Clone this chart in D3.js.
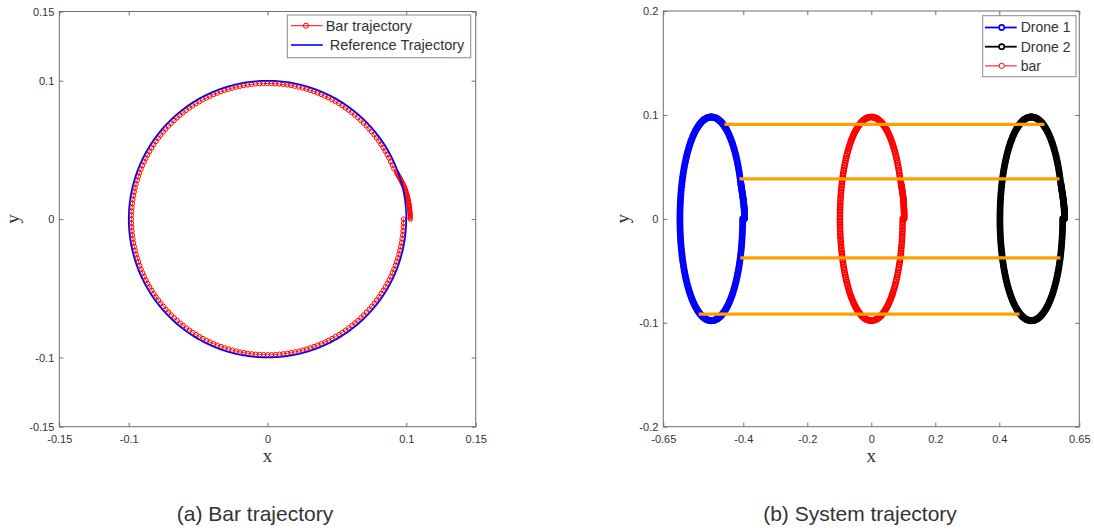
<!DOCTYPE html>
<html>
<head>
<meta charset="utf-8">
<script src="https://cdn.jsdelivr.net/npm/d3@7"></script>
<style>
  body { margin: 0; background: #fff; }
  svg { display: block; }
  text { font-family: "Liberation Sans", Arial, Helvetica, sans-serif; fill: #333; }
  .lbl { white-space: pre; }
</style>
</head>
<body>
<svg id="fig" width="1094" height="530"></svg>
<script>
// ---- data (metres) ----
const stepsPerLap = 216;              // logged samples per revolution
const refRadius = 0.1;                // reference circle for the bar
const barRadius = 0.098;              // steady-state radius of the bar
const droneRadius = 0.098;            // steady-state radius of each drone
const barCenterX = 0;
const droneCenterX = [-0.5, 0.5];

// start-up transient relative to each path's centre: shared y samples, x per body
const tailY = [
  0.000, 0.001, 0.002, 0.003, 0.004, 0.005, 0.006, 0.007, 0.008, 0.009,
  0.010, 0.011, 0.012, 0.013, 0.014, 0.015, 0.016, 0.017, 0.018, 0.019,
  0.020, 0.021, 0.022, 0.023, 0.024, 0.025, 0.026, 0.027, 0.028, 0.029,
  0.030, 0.031, 0.032, 0.033, 0.034
];
const barTailX = [
  0.1028, 0.1028, 0.1028, 0.1028, 0.1027, 0.1026, 0.1025, 0.1024, 0.1023, 0.1022,
  0.1020, 0.1019, 0.1017, 0.1015, 0.1013, 0.1011, 0.1008, 0.1006, 0.1003, 0.1000,
  0.0997, 0.0994, 0.0990, 0.0986, 0.0982, 0.0977, 0.0972, 0.0967, 0.0962, 0.0957,
  0.0951, 0.0946, 0.0940, 0.0935, 0.0929
];
const droneTailX = [
  0.1040, 0.1040, 0.1040, 0.1039, 0.1038, 0.1037, 0.1036, 0.1034, 0.1032, 0.1030,
  0.1028, 0.1025, 0.1022, 0.1019, 0.1016, 0.1012, 0.1008, 0.1004, 0.1000, 0.0996,
  0.0992, 0.0988, 0.0983, 0.0978, 0.0973, 0.0968, 0.0963, 0.0958, 0.0953, 0.0948,
  0.0943, 0.0938, 0.0933, 0.0928, 0.0923
];

// bar snapshots: drone 1 end x, drone 2 end x, height y
const snapX1 = [-0.459, -0.412, -0.409, -0.539];
const snapX2 = [0.541, 0.588, 0.591, 0.463];
const snapY  = [0.091, 0.0385, -0.0375, -0.0917];

// axis ticks
const xTicksA = [-0.15, -0.1, 0, 0.1, 0.15];
const yTicksA = [-0.15, -0.1, 0, 0.1, 0.15];
const xTicksB = [-0.65, -0.4, -0.2, 0, 0.2, 0.4, 0.65];
const yTicksB = [-0.2, -0.1, 0, 0.1, 0.2];

const legendA = ["Bar trajectory", " Reference Trajectory"];
const legendB = ["Drone 1", "Drone 2", "bar"];
const captions = ["(a) Bar trajectory", "(b) System trajectory"];

// ---- helpers ----
const TAU = Math.PI * 2;

// one lap: transient points, then the circle from where the transient ends
function lapPoints(tailX, radius, cx) {
  const tail = tailX.map((x, i) => [x, tailY[i]]);
  const last = tail[tail.length - 1];
  const a0 = Math.atan2(last[1], last[0]);
  const n = Math.round((TAU - a0) / TAU * stepsPerLap);
  const ring = d3.range(1, n + 1).map(i => {
    const a = a0 + i * (TAU - a0) / n;
    return [radius * Math.cos(a), radius * Math.sin(a)];
  });
  return tail.concat(ring).map(p => [p[0] + cx, p[1]]);
}

const svg = d3.select("#fig");
const axisColor = "#6e6e6e";

function drawAxes(g, x, y, xt, yt) {
  const [x0, x1] = x.range();
  const [y0, y1] = y.range();
  const fmt = d => String(d);
  const bottom = g.append("g").attr("transform", `translate(0,${y0})`)
    .call(d3.axisBottom(x).tickValues(xt).tickFormat(fmt).tickSizeInner(-4).tickSizeOuter(0).tickPadding(9));
  const left = g.append("g").attr("transform", `translate(${x0},0)`)
    .call(d3.axisLeft(y).tickValues(yt).tickFormat(fmt).tickSizeInner(-4).tickSizeOuter(0).tickPadding(5));
  const top = g.append("g").attr("transform", `translate(0,${y1})`)
    .call(d3.axisTop(x).tickValues(xt).tickFormat("").tickSizeInner(-4).tickSizeOuter(0));
  const right = g.append("g").attr("transform", `translate(${x1},0)`)
    .call(d3.axisRight(y).tickValues(yt).tickFormat("").tickSizeInner(-4).tickSizeOuter(0));
  [bottom, left, top, right].forEach(a => {
    a.select(".domain").remove();
    a.selectAll("line").attr("stroke", axisColor);
    a.selectAll("text").attr("fill", "#333").style("font-size", "11px")
      .style("font-family", '"Liberation Sans", Arial, sans-serif');
  });
  g.append("rect").attr("x", x0).attr("y", y1).attr("width", x1 - x0).attr("height", y0 - y1)
    .attr("fill", "none").attr("stroke", axisColor).attr("stroke-width", 1);
}

function axisTitles(g, x, y, xlabX, ylabX) {
  g.append("text").attr("x", xlabX).attr("y", 462).attr("text-anchor", "middle")
    .style("font-family", '"Liberation Serif", "Times New Roman", serif').style("font-size", "19px")
    .attr("fill", "#333").text("x");
  g.append("text").attr("transform", `translate(${ylabX},${(y.range()[0] + y.range()[1]) / 2}) rotate(-90)`)
    .attr("text-anchor", "middle")
    .style("font-family", '"Liberation Serif", "Times New Roman", serif').style("font-size", "19px")
    .attr("fill", "#333").text("y");
}

function drawTrack(g, pts, x, y, color, lw, mr, mw) {
  const line = d3.line().x(d => x(d[0])).y(d => y(d[1]));
  g.append("path").datum(pts).attr("d", line).attr("fill", "none")
    .attr("stroke", color).attr("stroke-width", lw);
  g.append("g").selectAll("circle").data(pts).join("circle")
    .attr("cx", d => x(d[0])).attr("cy", d => y(d[1])).attr("r", mr)
    .attr("fill", "none").attr("stroke", color).attr("stroke-width", mw);
}

// ---- panel (a): bar trajectory ----
const xA = d3.scaleLinear().domain([-0.15, 0.15]).range([59.3, 475.7]);
const yA = d3.scaleLinear().domain([-0.15, 0.15]).range([426.7, 11.5]);
const gA = svg.append("g");

const barPts = lapPoints(barTailX, barRadius, barCenterX);
drawTrack(gA, barPts, xA, yA, "#ff0000", 0.8, 2.2, 1);

const refPts = d3.range(0, 361).map(d => [refRadius * Math.cos(d / 360 * TAU), refRadius * Math.sin(d / 360 * TAU)]);
gA.append("path").datum(refPts)
  .attr("d", d3.line().x(d => xA(d[0])).y(d => yA(d[1])))
  .attr("fill", "none").attr("stroke", "#0000ff").attr("stroke-width", 1.6);

drawAxes(gA, xA, yA, xTicksA, yTicksA);
axisTitles(gA, xA, yA, xA(0), 19);

// legend (a)
const legA = gA.append("g");
legA.append("rect").attr("x", 287.3).attr("y", 15).attr("width", 183.4).attr("height", 42.7)
  .attr("fill", "#fff").attr("stroke", "#8a8a8a").attr("stroke-width", 1);
const legAColors = ["#ff0000", "#0000ff"];
legendA.forEach((t, i) => {
  const ly = 25.7 + i * 19.3;
  legA.append("line").attr("x1", 291).attr("x2", 322.7).attr("y1", ly).attr("y2", ly)
    .attr("stroke", legAColors[i]).attr("stroke-width", i ? 1.6 : 1);
  if (i === 0) legA.append("circle").attr("cx", 306).attr("cy", ly).attr("r", 2.6)
    .attr("fill", "none").attr("stroke", legAColors[i]).attr("stroke-width", 1);
  legA.append("text").attr("class", "lbl").attr("x", 325.7).attr("y", ly).attr("dy", "0.35em")
    .style("font-size", "14.5px").attr("fill", "#111").text(t);
});

// ---- panel (b): system trajectory ----
const xB = d3.scaleLinear().domain([-0.65, 0.65]).range([663.3, 1079.3]);
const yB = d3.scaleLinear().domain([-0.2, 0.2]).range([426.7, 11]);
const gB = svg.append("g");

drawTrack(gB, lapPoints(droneTailX, droneRadius, droneCenterX[0]), xB, yB, "#0000ff", 1.8, 2.6, 1.7);
drawTrack(gB, lapPoints(droneTailX, droneRadius, droneCenterX[1]), xB, yB, "#000000", 1.8, 2.6, 1.7);
drawTrack(gB, lapPoints(barTailX, barRadius, barCenterX), xB, yB, "#ff0000", 1, 2.6, 1.4);

// bar snapshots between the two drones
gB.append("g").selectAll("line").data(snapY).join("line")
  .attr("x1", (d, i) => xB(snapX1[i])).attr("x2", (d, i) => xB(snapX2[i]))
  .attr("y1", d => yB(d)).attr("y2", d => yB(d))
  .attr("stroke", "#ffa000").attr("stroke-width", 3.2);

drawAxes(gB, xB, yB, xTicksB, yTicksB);
axisTitles(gB, xB, yB, xB(0), 629);

// legend (b)
const legB = gB.append("g");
legB.append("rect").attr("x", 982.7).attr("y", 15.7).attr("width", 93.3).attr("height", 61)
  .attr("fill", "#fff").attr("stroke", "#8a8a8a").attr("stroke-width", 1);
const legBColors = ["#0000ff", "#000000", "#ff0000"];
legendB.forEach((t, i) => {
  const ly = 27.5 + i * 19.2;
  legB.append("line").attr("x1", 985).attr("x2", 1016.7).attr("y1", ly).attr("y2", ly)
    .attr("stroke", legBColors[i]).attr("stroke-width", i < 2 ? 1.8 : 1);
  legB.append("circle").attr("cx", 1001.7).attr("cy", ly).attr("r", 2.6)
    .attr("fill", "#fff").attr("stroke", legBColors[i]).attr("stroke-width", i < 2 ? 1.6 : 1);
  legB.append("text").attr("x", 1020.7).attr("y", ly).attr("dy", "0.35em")
    .style("font-size", "14px").attr("fill", "#111").text(t);
});

// ---- captions ----
svg.selectAll("text.caption").data(captions).join("text").attr("class", "caption")
  .attr("x", (d, i) => [255, 860][i]).attr("y", 521).attr("text-anchor", "middle")
  .style("font-size", "21px").attr("fill", "#111").text(d => d);
</script>
</body>
</html>
